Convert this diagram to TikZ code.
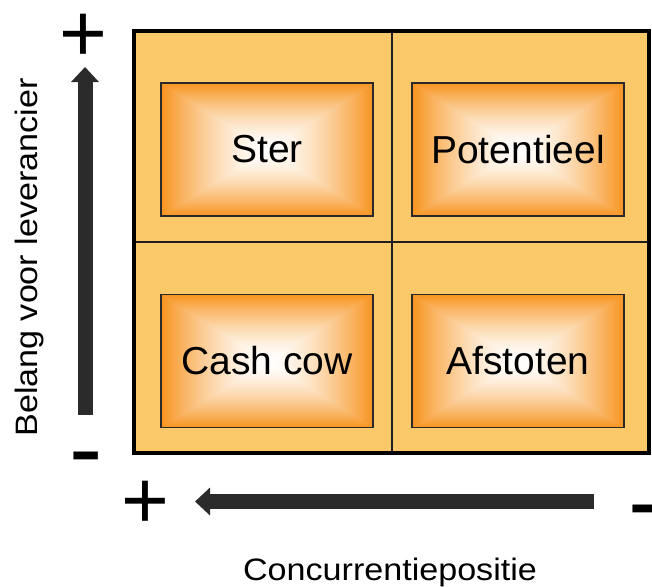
\documentclass[tikz,border=0pt]{standalone}
\usepackage{fontspec}
\setmainfont{Liberation Sans}
\usetikzlibrary{arrows.meta}

\definecolor{cellfill}{HTML}{FBC96A}
\definecolor{gridline}{HTML}{1E1E1E}
\definecolor{boxline}{HTML}{2A2A2A}
\definecolor{axisgray}{HTML}{2B2B2B}

% rectangular glow: white centre fading to orange at the edges
% (the path's bounding box is mapped onto the central 50bp square)
\pgfdeclarefunctionalshading{boxglow}{\pgfpoint{-50bp}{-50bp}}{\pgfpoint{50bp}{50bp}}{}{
  abs exch abs 2 copy lt {exch} if pop 25 div dup 1 gt {pop 1} if 1.5 exp
  dup dup 0.88 mul 1 exch sub 3 1 roll
  0.42 mul 1 exch sub exch
  0.03 mul 1 exch sub 3 1 roll exch
}

\tikzset{
  quadbox/.style={draw=boxline, line width=1.5pt, shading=boxglow,
    minimum width=212pt, minimum height=133pt, inner sep=0pt,
    font=\fontsize{39}{47}\selectfont},
  axisarrow/.style={draw=axisgray, line width=15pt,
    -{Triangle[width=27pt,length=15pt]}},
  axislabel/.style={anchor=base, inner sep=0pt, font=\fontsize{31}{37}\selectfont},
  plussign/.style={anchor=base, inner sep=0pt, font=\fontsize{82}{90}\selectfont},
  minussign/.style={anchor=base, inner sep=0pt, font=\fontsize{100}{110}\selectfont},
}

\begin{document}
\begin{tikzpicture}[x=1pt, y=-1pt]
  \useasboundingbox (0,0) rectangle (652,586);

  % frame corners and grid
  \coordinate (nw) at (134,31);
  \coordinate (se) at (649,453);
  \coordinate (topmid) at (392,31);
  \coordinate (botmid) at (392,453);
  \coordinate (leftmid) at (134,242);
  \coordinate (rightmid) at (649,242);

  \fill[cellfill] (nw) rectangle (se);
  \draw[gridline, line width=2pt] (topmid) -- (botmid);
  \draw[gridline, line width=2pt] (leftmid) -- (rightmid);
  \draw[black, line width=4.5pt] (nw) rectangle (se);

  % the four quadrant boxes
  \node[quadbox] (ster) at (267,149.5) {Ster};
  \node[quadbox] (potentieel) at (518,149.5) {Potentieel};
  \node[quadbox] (cashcow) at (267,361) {Cash cow};
  \node[quadbox] (afstoten) at (518,361) {Afstoten};

  % axis arrows
  \coordinate (vtail) at (85,415);
  \coordinate (vtip) at (85,67);
  \coordinate (htail) at (594,501.5);
  \coordinate (htip) at (195,501.5);
  \draw[axisarrow] (vtail) -- (vtip);
  \draw[axisarrow] (htail) -- (htip);

  % axis ends
  \node[plussign] (vplus) at (83,61.5) {+};
  \node[minussign] (vminus) at (86,482.3) {-};
  \node[plussign] (hplus) at (145,528.5) {+};
  \node[minussign] (hminus) at (645.3,535.3) {-};

  % axis titles
  \node[axislabel, rotate=90] (ylabel) at (37,257.5) {\scalebox{1.1}[1]{Belang voor leverancier}};
  \node[axislabel] (xlabel) at (390,580) {\scalebox{1.1}[1]{Concurrentiepositie}};
\end{tikzpicture}
\end{document}
